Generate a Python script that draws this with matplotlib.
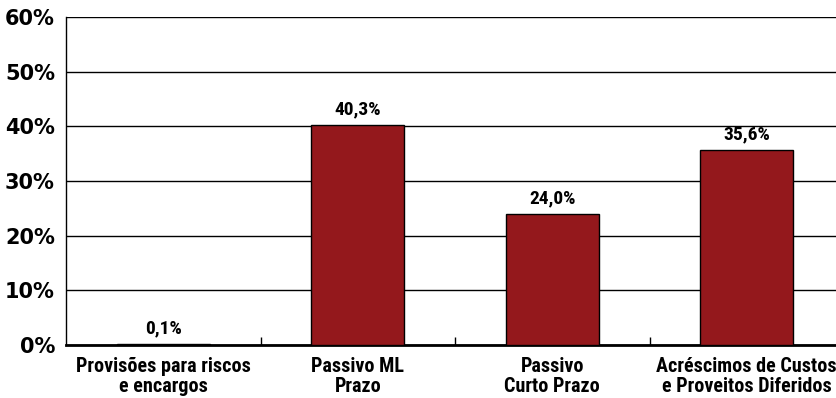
import matplotlib
matplotlib.use("Agg")
import matplotlib.pyplot as plt
from matplotlib import font_manager

# dados do grafico
categorias = ["Provisões para riscos\ne encargos", "Passivo ML\nPrazo",
              "Passivo\nCurto Prazo", "Acréscimos de Custos\ne Proveitos Diferidos"]
valores = [0.1, 40.3, 24.0, 35.6]
rotulos = ["0,1%", "40,3%", "24,0%", "35,6%"]
yticks = [0, 10, 20, 30, 40, 50, 60]

cor_barra = "#94181c"

# fonte estreita para os rotulos (usa a primeira que existir)
nomes = {f.name for f in font_manager.fontManager.ttflist}
estreita = "DejaVu Sans"
for nome in ["Roboto Condensed", "Archivo Narrow", "PT Sans Narrow", "Liberation Sans Narrow"]:
    if nome in nomes:
        estreita = nome
        break

fig = plt.figure(figsize=(8.37, 3.98), dpi=100)
ax = fig.add_axes([66 / 837, 53 / 398, 778 / 837, 328 / 398])

x = list(range(len(categorias)))
ax.bar(x, valores, width=0.48, color=cor_barra, edgecolor="black", linewidth=1, zorder=3)

for xi, v, r in zip(x, valores, rotulos):
    ax.text(xi, v + 1.2, r, ha="center", va="bottom", fontsize=14,
            fontweight="bold", family=estreita, zorder=4)

ax.set_xlim(-0.5, len(categorias) - 0.5)
ax.set_ylim(0, 60)
ax.set_yticks(yticks)
ax.set_yticklabels([f"{t}%" for t in yticks], fontsize=15, fontweight="bold")
ax.tick_params(axis="y", length=0, pad=8)
ax.yaxis.grid(True, color="black", linewidth=1, zorder=0)

ax.set_xticks(x)
ax.set_xticklabels(categorias, fontsize=14.5, fontweight="bold", family=estreita, linespacing=1.05)
ax.tick_params(axis="x", which="major", length=0, pad=9)
ax.set_xticks([0.5, 1.5, 2.5], minor=True)
ax.tick_params(axis="x", which="minor", direction="in", length=6, width=1, color="black")

ax.spines["top"].set_visible(False)
ax.spines["right"].set_visible(False)
ax.spines["left"].set_linewidth(1)
ax.spines["bottom"].set_linewidth(2)

fig.savefig("out.png", dpi=100)
